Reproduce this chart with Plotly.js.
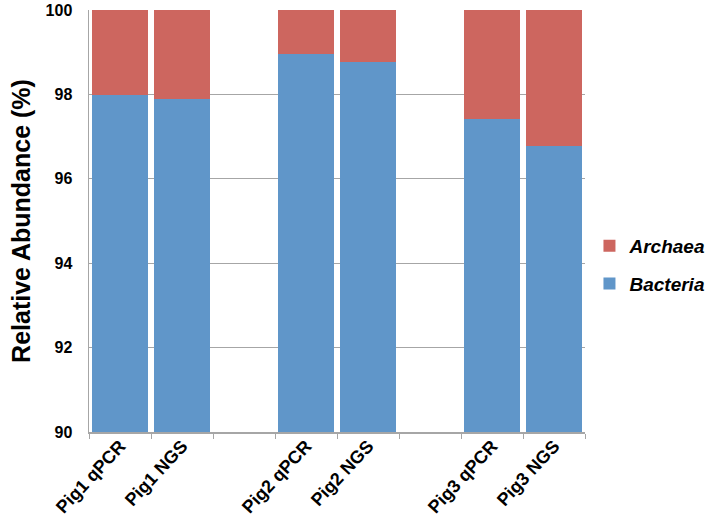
<!DOCTYPE html>
<html>
<head>
<meta charset="utf-8">
<script src="https://cdn.plot.ly/plotly-3.0.1.min.js"></script>
<style>html,body{margin:0;padding:0;background:#fff;}#chart{width:716px;height:528px;}</style>
</head>
<body>
<div id="chart"></div>
<script>
// Categories (blank slots separate the pigs)
const categories = ["Pig1 qPCR", "Pig1 NGS", " ", "Pig2 qPCR", "Pig2 NGS", "  ", "Pig3 qPCR", "Pig3 NGS"];
const bacteria = [97.99, 97.90, null, 98.96, 98.77, null, 97.41, 96.78];
const archaea = [2.01, 2.10, null, 1.04, 1.23, null, 2.59, 3.22];
const yTicks = [90, 92, 94, 96, 98, 100];

const font = "Arial, 'Liberation Sans', sans-serif";

const traces = [
  {
    type: "bar", name: "Bacteria", x: categories, y: bacteria,
    marker: {color: "#6096C9"}, legendgroup: "b", legendrank: 2
  },
  {
    type: "bar", name: "Archaea", x: categories, y: archaea,
    marker: {color: "#CD665F"}, legendgroup: "a", legendrank: 1
  }
];

const layout = {
  width: 716, height: 528,
  margin: {l: 89, r: 131, t: 10, b: 96, pad: 0, autoexpand: false},
  paper_bgcolor: "#fff", plot_bgcolor: "#fff",
  barmode: "stack", bargap: 0.09,
  font: {family: font, color: "#000"},
  showlegend: true,
  legend: {
    x: 1.009, xanchor: "left", y: 0.396, yanchor: "middle",
    traceorder: "grouped", tracegroupgap: 10,
    font: {family: font, size: 19, weight: 700, style: "italic", color: "#000"},
    itemwidth: 30
  },
  xaxis: {
    type: "category", categoryorder: "array", categoryarray: categories,
    tickson: "boundaries", ticks: "outside", ticklen: 5, tickcolor: "#A6A6A6",
    showline: true, linecolor: "#A6A6A6", linewidth: 1.5,
    showgrid: false, tickangle: -47, ticklabelstandoff: -5,
    tickfont: {family: font, size: 18, weight: 700, color: "#000"},
    range: [-0.5, 7.5], fixedrange: true
  },
  yaxis: {
    range: [90, 100], tickvals: yTicks, ticktext: yTicks.map(String),
    showline: true, linecolor: "#A6A6A6", linewidth: 1.5,
    showgrid: true, gridcolor: "#A6A6A6", gridwidth: 1,
    ticks: "", ticklabelstandoff: 12, zeroline: false,
    tickfont: {family: font, size: 16, weight: 700, color: "#000"},
    title: {text: "Relative Abundance (%)", standoff: 8,
      font: {family: font, size: 25, weight: 700, color: "#000"}}
  }
};

Plotly.newPlot("chart", traces, layout, {displayModeBar: false, staticPlot: true});
</script>
</body>
</html>
